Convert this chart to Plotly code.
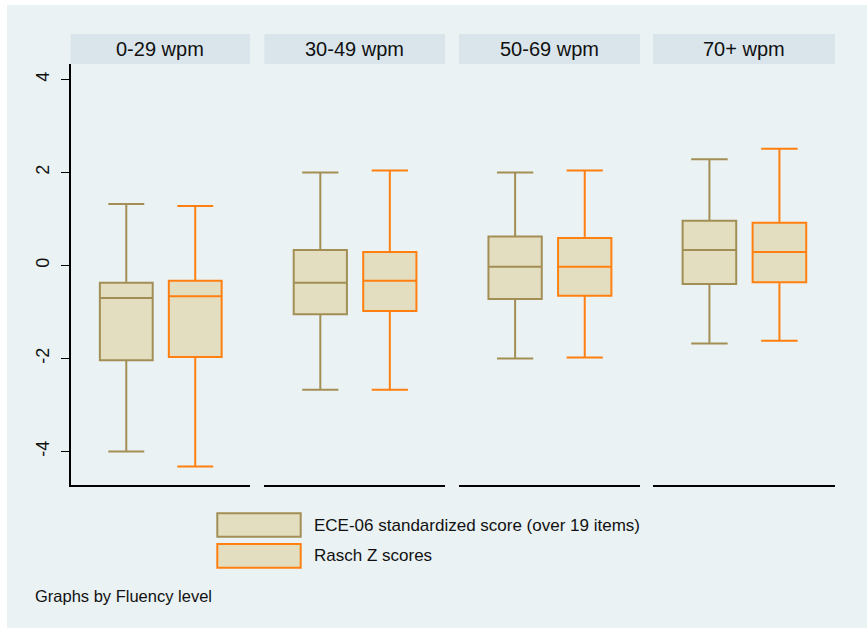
import plotly.graph_objects as go

groups = ["0-29 wpm", "30-49 wpm", "50-69 wpm", "70+ wpm"]
series_names = ["ECE-06 standardized score (over 19 items)", "Rasch Z scores"]

ece_lower = [-4.00, -2.67, -2.00, -1.68]
ece_q1 = [-2.04, -1.05, -0.72, -0.40]
ece_median = [-0.70, -0.37, -0.03, 0.33]
ece_q3 = [-0.37, 0.33, 0.62, 0.96]
ece_upper = [1.32, 2.00, 2.00, 2.28]

rasch_lower = [-4.32, -2.67, -1.98, -1.62]
rasch_q1 = [-1.97, -0.98, -0.65, -0.36]
rasch_median = [-0.66, -0.33, -0.03, 0.29]
rasch_q3 = [-0.33, 0.29, 0.59, 0.92]
rasch_upper = [1.28, 2.04, 2.04, 2.51]

y_ticks = [-4, -2, 0, 2, 4]

W, H = 867, 628
BG = "#EAF2F3"
HEADER = "#D9E5EB"
FILL = "#E2DEBF"
OLIVE = "#A38F55"
ORANGE = "#FF8010"
FONT = "Liberation Sans, Arial, sans-serif"

panel_px = [(70.7, 250.0), (264.3, 445.0), (459.0, 640.0), (653.0, 835.0)]
plot_top, plot_bottom = 64.0, 485.0
header_top = 34.0

fig = go.Figure()

series = [
    (series_names[0], ece_lower, ece_q1, ece_median, ece_q3, ece_upper, OLIVE, 0),
    (series_names[1], rasch_lower, rasch_q1, rasch_median, rasch_q3, rasch_upper, ORANGE, 1),
]

for i, g in enumerate(groups):
    xa = "x" if i == 0 else f"x{i+1}"
    for name, lo, q1, med, q3, up, col, pos in series:
        fig.add_trace(go.Box(
            x=[pos], lowerfence=[lo[i]], q1=[q1[i]], median=[med[i]], q3=[q3[i]],
            upperfence=[up[i]], name=name, xaxis=xa, yaxis="y",
            fillcolor=FILL, line=dict(color=col, width=2),
            width=0.766, whiskerwidth=0.68, showlegend=False,
            boxpoints=False,
        ))

layout = dict(
    width=W, height=H,
    margin=dict(l=0, r=0, t=0, b=0),
    paper_bgcolor="white",
    plot_bgcolor="white",
    font=dict(family=FONT, color="#111111"),
    showlegend=False,
)

shapes = []
annotations = []
# outer background
shapes.append(dict(type="rect", xref="paper", yref="paper", x0=7 / W, x1=1.0,
                   y0=0.0, y1=1 - 5 / H, fillcolor=BG, line=dict(width=0), layer="below"))

ydom = [1 - plot_bottom / H, 1 - plot_top / H]
for i, g in enumerate(groups):
    x0, x1 = panel_px[i]
    key = "xaxis" if i == 0 else f"xaxis{i+1}"
    layout[key] = dict(
        domain=[x0 / W, x1 / W], range=[-0.806, 1.794],
        showticklabels=False, ticks="", showgrid=False, zeroline=False,
        showline=True, linecolor="black", linewidth=1.5, anchor="y", fixedrange=True,
    )
    shapes.append(dict(type="rect", xref="paper", yref="paper",
                       x0=x0 / W, x1=x1 / W, y0=1 - plot_top / H, y1=1 - header_top / H,
                       fillcolor=HEADER, line=dict(width=0)))
    annotations.append(dict(xref="paper", yref="paper", x=(x0 + x1) / 2 / W,
                            y=1 - (header_top + plot_top) / 2 / H, text=g, showarrow=False,
                            xanchor="center", yanchor="middle",
                            font=dict(size=20, family=FONT, color="#111111")))

layout["yaxis"] = dict(
    domain=ydom, range=[-4.72, 4.33], anchor="x",
    tickvals=y_ticks, ticktext=[str(v) for v in y_ticks], tickangle=-90,
    ticks="outside", ticklen=8, tickwidth=1.2, tickcolor="black",
    ticklabelstandoff=5,
    tickfont=dict(size=18, family=FONT, color="#111111"),
    showgrid=True, gridcolor="#EAF2F3", gridwidth=1.5, zeroline=False,
    showline=True, linecolor="black", linewidth=1.5, fixedrange=True,
)

# legend (drawn as layout shapes/text)
leg = [(513.3, 536.7, OLIVE, series_names[0]), (544.0, 567.7, ORANGE, series_names[1])]
for y0, y1, col, txt in leg:
    shapes.append(dict(type="rect", xref="paper", yref="paper",
                       x0=217.3 / W, x1=300.7 / W, y0=1 - y1 / H, y1=1 - y0 / H,
                       fillcolor=FILL, line=dict(color=col, width=2)))
    annotations.append(dict(xref="paper", yref="paper", x=312 / W, y=1 - (y0 + y1) / 2 / H,
                            text=txt, showarrow=False, xanchor="left", yanchor="middle",
                            font=dict(size=17, family=FONT, color="#111111")))

annotations.append(dict(xref="paper", yref="paper", x=33 / W, y=1 - 596 / H,
                        text="Graphs by Fluency level", showarrow=False,
                        xanchor="left", yanchor="middle",
                        font=dict(size=16.5, family=FONT, color="#111111")))

layout["shapes"] = shapes
layout["annotations"] = annotations
fig.update_layout(**layout)

fig.write_html("out.html")
